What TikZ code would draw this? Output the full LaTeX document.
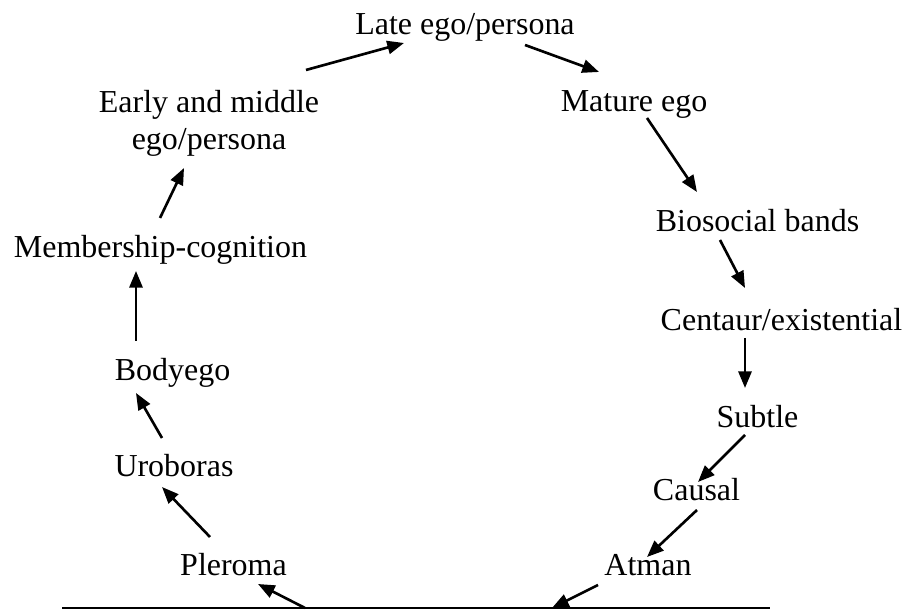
\documentclass[tikz,border=0pt]{standalone}
\usepackage{fontspec}
\setmainfont{Liberation Serif}
\usetikzlibrary{arrows.meta}
\tikzset{
    stage/.style={inner sep=0pt, text height=12.6pt, text depth=4pt, font=\fontsize{18.2}{19}\selectfont},
    stagetwo/.style={inner sep=0pt, align=center, font=\fontsize{18.2}{21}\selectfont},
    flow/.style={-{Triangle[length=9.5pt, width=7.5pt]}, line width=1.5pt}
}

\begin{document}
\begin{tikzpicture}[
    x=0.02cm, y=0.02cm,
    ground/.style={line width=1.6pt}
]
\useasboundingbox (0,0) rectangle (909,611);

% --- Stages, left side (going up) ---
\node[stage] (pleroma) at (233.5, 43.5) {Pleroma};
\node[stage] (uro) at (174, 142.5) {Uroboras};
\node[stage] (body) at (172.5, 238.5) {Bodyego};
\node[stage] (member) at (160.5, 361.5) {Membership-cognition};
\node[stagetwo] (early) at (209, 488) {Early and middle\\ego/persona};

% --- Top ---
\node[stage] (late) at (465, 584.5) {Late ego/persona};

% --- Stages, right side (going down) ---
\node[stage] (mature) at (634, 507.5) {Mature ego};
\node[stage] (bio) at (757.5, 387.5) {Biosocial bands};
\node[stage] (centaur) at (781.5, 288.5) {Centaur/existential};
\node[stage] (subtle) at (757.5, 191.5) {Subtle};
\node[stage] (causal) at (696.5, 118.5) {Causal};
\node[stage] (atman) at (648, 43.5) {Atman};

% --- Ground line ---
\coordinate (baseL) at (62, 3);
\coordinate (baseR) at (770, 3);
\coordinate (hitA) at (552, 3);
\coordinate (hitB) at (305, 3);
\draw[ground] (baseL) -- (baseR);

% --- Arrows up the left side ---
\draw[flow] (hitB) -- ([shift={(24.5,-16.5)}]pleroma.center);
\draw[flow] ([shift={(-23.5,30.5)}]pleroma.center) -- ([shift={(-12,-18.5)}]uro.center);
\draw[flow] ([shift={(-12,30.5)}]uro.center) -- ([shift={(-36.5,-20.5)}]body.center);
\draw[flow] ([shift={(-36.5,31.5)}]body.center) -- ([shift={(-24.5,-21.5)}]member.center);
\draw[flow] ([shift={(-0.5,31.5)}]member.center) -- ([shift={(-25,-45)}]early.center);
\draw[flow] ([shift={(97,53)}]early.center) -- ([shift={(-61,-16.5)}]late.center);

% --- Arrows down the right side ---
\draw[flow] ([shift={(60,-18.5)}]late.center) -- ([shift={(-35,31.5)}]mature.center);
\draw[flow] ([shift={(13,-14.5)}]mature.center) -- ([shift={(-60.5,31.5)}]bio.center);
\draw[flow] ([shift={(-37.5,-16.5)}]bio.center) -- ([shift={(-36.5,34.5)}]centaur.center);
\draw[flow] ([shift={(-36.5,-15.5)}]centaur.center) -- ([shift={(-12.5,31.5)}]subtle.center);
\draw[flow] ([shift={(-12.5,-15.5)}]subtle.center) -- ([shift={(1.5,10.5)}]causal.center);
\draw[flow] ([shift={(0.5,-17.5)}]causal.center) -- ([shift={(-1,10.5)}]atman.center);
\draw[flow] ([shift={(-50,-17.5)}]atman.center) -- (hitA);

\end{tikzpicture}
\end{document}
